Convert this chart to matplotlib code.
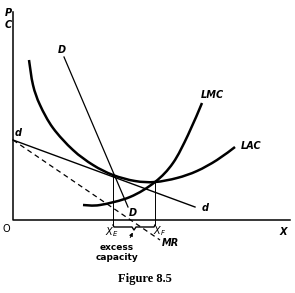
import numpy as np
import matplotlib
matplotlib.use("Agg")
import matplotlib.pyplot as plt
from matplotlib.path import Path
from matplotlib.patches import PathPatch

# curve points (quantity, price), origin at O
lac_x = [16, 20, 27, 40, 60, 80, 100, 122, 142, 164, 184, 204, 222]
lac_y = [160, 135, 115, 92, 70, 55, 45, 39, 38, 42, 49, 60, 73]
lmc_x = [70, 87, 117, 142, 160, 175, 189]
lmc_y = [15, 15, 23, 38, 57, 85, 117]
D_x = [51, 115]
D_y = [163, 13]
d_x = [0, 182]
d_y = [80, 13]
mr_x = [0, 147]
mr_y = [80, -20]
xe, xe_y = 100, 45
xf, xf_y = 142, 38


def smooth(xs, ys):
    p = np.column_stack([xs, ys]).astype(float)
    p = np.vstack([p[0], p, p[-1]])
    verts = [p[1]]
    codes = [Path.MOVETO]
    for i in range(1, len(p) - 2):
        c1 = p[i] + (p[i + 1] - p[i - 1]) / 6
        c2 = p[i + 1] - (p[i + 2] - p[i]) / 6
        verts += [c1, c2, p[i + 1]]
        codes += [Path.CURVE4] * 3
    return Path(verts, codes)


fig = plt.figure(figsize=(2.95, 2.93), dpi=100)
ax = fig.add_axes([0, 0, 1, 1])
ax.set_xlim(-13, 282)
ax.set_ylim(-73, 220)
ax.axis("off")

# axes
ax.plot([0, 0, 277], [208, 0, 0], color="black", lw=1.1)

for xs, ys in [(lac_x, lac_y), (lmc_x, lmc_y)]:
    ax.add_patch(PathPatch(smooth(xs, ys), fill=False, lw=1.8, ec="black"))

ax.plot(D_x, D_y, color="black", lw=0.9)
ax.plot(d_x, d_y, color="black", lw=1.0)
ax.plot(mr_x, mr_y, color="black", lw=0.9, ls=(0, (4, 3)))

# verticals and brace
ax.plot([xe, xe], [xe_y, -5], color="black", lw=0.7)
ax.plot([xf, xf], [xf_y, -5], color="black", lw=0.7)
mid = (xe + xf) / 2
ax.plot([xe, xe + 1, mid - 2, mid, mid + 2, xf - 1, xf],
        [-5, -7, -7, -10, -7, -7, -5], color="black", lw=1.0)
ax.annotate("", xy=(mid, -10), xytext=(mid - 5, -20),
            arrowprops=dict(arrowstyle="-|>", color="black", lw=0.7,
                            mutation_scale=5))

lab = dict(fontsize=7, style="italic", fontweight="bold",
           family="DejaVu Sans", ha="center", va="center")
ax.text(-5, 207, "P", **lab)
ax.text(-5, 195, "C", **lab)
ax.text(-7, -9, "O", fontsize=7, family="DejaVu Sans", ha="center", va="center")
ax.text(5, 87, "d", **lab)
ax.text(192, 12, "d", **lab)
ax.text(49, 170, "D", **lab)
ax.text(120, 7, "D", **lab)
ax.text(199, 125, "LMC", **lab)
ax.text(238, 74, "LAC", **lab)
ax.text(270, -12, "X", **lab)
ax.text(157, -23, "MR", **lab)
ax.text(99, -12, r"$X_E$", fontsize=7, ha="center", va="center")
ax.text(147, -11, r"$X_F$", fontsize=7, ha="center", va="center")
ax.text(104, -28, "excess", fontsize=6.5, fontweight="bold",
        family="DejaVu Sans", ha="center", va="center")
ax.text(104, -38, "capacity", fontsize=6.5, fontweight="bold",
        family="DejaVu Sans", ha="center", va="center")
ax.text(132, -59, "Figure 8.5", fontsize=9, fontweight="bold",
        family="Liberation Serif", ha="center", va="center")

fig.savefig("out.png", dpi=100)
